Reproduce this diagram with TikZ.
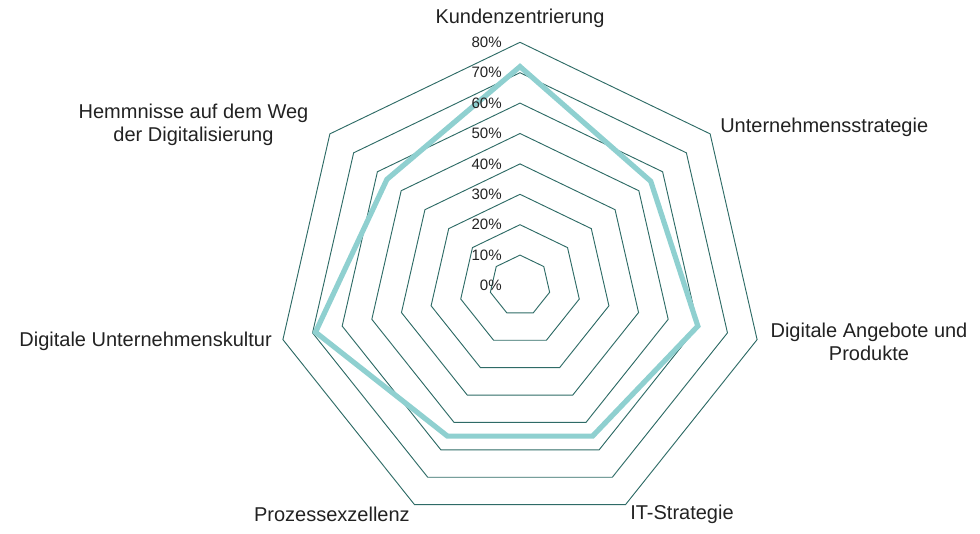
\documentclass[tikz,border=0pt]{standalone}
\usepackage{fontspec}
\setmainfont{Liberation Sans}
\usetikzlibrary{calc}
\definecolor{ringcol}{HTML}{2E6B66}
\definecolor{datacol}{HTML}{8FD0D0}
\definecolor{txtcol}{HTML}{222222}
\tikzset{
  ring/.style={draw=ringcol,line width=0.7pt,line join=miter},
  dataline/.style={draw=datacol,line width=3.9pt,line join=miter},
  axislbl/.style={text=txtcol,font=\fontsize{15}{17.4}\selectfont,inner sep=0pt,align=center},
  pctlbl/.style={text=txtcol,font=\fontsize{11.3}{13}\selectfont,inner sep=0pt,anchor=east}
}
\begin{document}
\begin{tikzpicture}[x=0.75pt,y=0.75pt]
\useasboundingbox (0,0) rectangle (980,533);
\coordinate (O) at (520,247.5);

% rings 10% .. 80%
\foreach \k in {1,...,8}
  \draw[ring] ($(O)+(90:\k*30.4)$) \foreach \i in {1,...,6} { -- ($(O)+(90-\i*360/7:\k*30.4)$) } -- cycle;

% data
\draw[dataline] ($(O)+(90:72*3.04)$)
  -- ($(O)+(90-1*360/7:55*3.04)$)
  -- ($(O)+(90-2*360/7:60*3.04)$)
  -- ($(O)+(90-3*360/7:55*3.04)$)
  -- ($(O)+(90-4*360/7:55*3.04)$)
  -- ($(O)+(90-5*360/7:69*3.04)$)
  -- ($(O)+(90-6*360/7:56*3.04)$) -- cycle;

% percent labels
\foreach \k/\t in {0/0,1/10,2/20,3/30,4/40,5/50,6/60,7/70,8/80}
  \node[pctlbl] (pct\k) at (502,247.5+\k*30.4) {\t\%};

% axis labels
\node[axislbl] (kunden) at (520,515) {Kundenzentrierung};
\node[axislbl,anchor=west] (strategie) at (720,406) {Unternehmensstrategie};
\node[axislbl] (angebote) at (869,191) {Digitale Angebote und\\Produkte};
\node[axislbl,anchor=west] (itstrat) at (630,19) {IT-Strategie};
\node[axislbl,anchor=east] (prozess) at (410,19) {Prozessexzellenz};
\node[axislbl,anchor=east] (kultur) at (272,192) {Digitale Unternehmenskultur};
\node[axislbl] (hemmnisse) at (193.5,408) {Hemmnisse auf dem Weg\\der Digitalisierung};

\end{tikzpicture}
\end{document}
